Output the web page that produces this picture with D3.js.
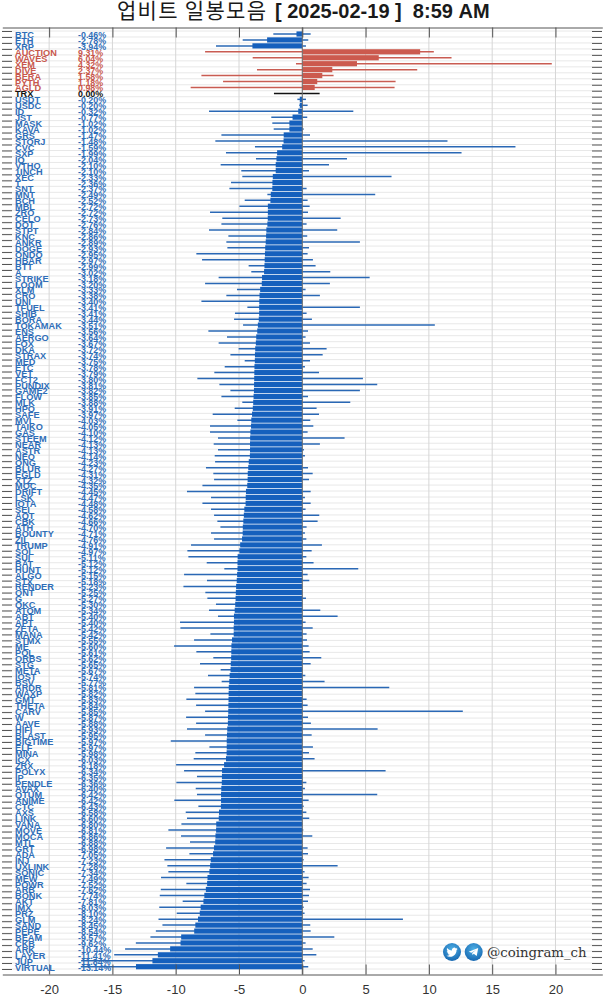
<!DOCTYPE html>
<html><head><meta charset="utf-8">
<script src="https://cdn.jsdelivr.net/npm/d3@7"></script>
<style>html,body{margin:0;padding:0;background:#fff}svg{display:block}</style>
</head><body><div id="chart"></div>
<script>
const titleKo = "업비트 일봉모음";
const titleEn = "[ 2025-02-19 ]  8:59 AM";
const handle = "@coingram_ch";
const xTicks = [-20,-15,-10,-5,0,5,10,15,20];
const names = ["BTC","ETH","XRP","AUCTION","WAVES","XEM","DIVE","BERA","PYTH","AGLD","TRX","USDT","USDC","ID","JST","MASK","KAVA","GRS","STORJ","CVC","SXP","IQ","VTHO","1INCH","XEC","T","SNT","MNT","BCH","MBL","ZRO","CELO","DOT","STPT","KNC","ANKR","DOGE","ONDO","HBAR","BTT","A","STRIKE","LOOM","XLM","CRO","UNI","TFUEL","SHIB","BORA","TOKAMAK","ENS","AERGO","FOX","DKA","STRAX","MED","ETC","VET","FCT2","PUNDIX","GAME2","FLOW","MLK","HPO","SAFE","MVL","TAIKO","GAS","STEEM","NEAR","ASTR","NEO","ONG","BLUR","EGLD","XTZ","MOC","DRIFT","LSK","IOTA","SEI","AQT","CBK","ATH","BOUNTY","ZIL","TRUMP","SOL","SUI","BAT","HUNT","ALGO","STX","RENDER","ONT","G","QKC","ATOM","ABT","APT","ZETA","MANA","STMX","ME","POL","ORBS","STG","META","IOST","BSV","ARDR","WAXP","GMT","THETA","CARV","W","AAVE","HIFI","BLAST","BIGTIME","ELF","MINA","ICX","ZRX","POLYX","IP","PENDLE","AVAX","QTUM","ANIME","CTC","AXS","LINK","VANA","MOVE","MOCA","MTL","GRT","ADA","INJ","UXLINK","SONIC","MEW","POWR","ARB","BONK","AKT","IMX","PRZ","GLM","SAND","PEPE","BEAM","CKB","ARK","LAYER","JUP","VIRTUAL"];
const closes = [-0.46,-2.78,-3.94,9.31,6.04,4.32,2.37,1.58,1.18,0.98,0.00,-0.20,-0.20,-0.32,-0.77,-1.02,-1.02,-1.47,-1.48,-1.59,-1.99,-2.04,-2.10,-2.10,-2.33,-2.36,-2.37,-2.49,-2.52,-2.72,-2.72,-2.73,-2.76,-2.84,-2.86,-2.89,-2.93,-2.95,-2.97,-2.99,-3.02,-3.18,-3.20,-3.33,-3.38,-3.40,-3.41,-3.41,-3.44,-3.51,-3.56,-3.64,-3.67,-3.72,-3.74,-3.75,-3.78,-3.79,-3.80,-3.81,-3.82,-3.85,-3.88,-3.91,-3.97,-4.03,-4.05,-4.10,-4.12,-4.13,-4.13,-4.14,-4.23,-4.27,-4.31,-4.32,-4.35,-4.45,-4.47,-4.48,-4.58,-4.62,-4.66,-4.70,-4.71,-4.76,-4.91,-4.97,-5.11,-5.12,-5.12,-5.15,-5.18,-5.23,-5.25,-5.27,-5.30,-5.34,-5.40,-5.40,-5.42,-5.42,-5.55,-5.60,-5.61,-5.62,-5.65,-5.67,-5.74,-5.77,-5.81,-5.82,-5.83,-5.84,-5.85,-5.87,-5.88,-5.93,-5.95,-5.97,-5.97,-5.98,-6.03,-6.18,-6.34,-6.35,-6.36,-6.40,-6.42,-6.42,-6.43,-6.58,-6.60,-6.80,-6.81,-6.86,-6.88,-6.98,-7.05,-7.23,-7.28,-7.34,-7.49,-7.52,-7.62,-7.74,-7.81,-8.03,-8.10,-8.24,-8.45,-8.54,-9.57,-9.62,-10.44,-11.41,-11.84,-13.14];
const lows = [-2.29,-4.71,-6.82,-7.68,-3.92,-0.50,-3.58,-7.97,-6.26,-8.82,-2.24,-0.39,-0.24,-7.37,-2.45,-2.37,-2.26,-6.39,-6.87,-3.74,-6.03,-3.66,-6.45,-4.82,-4.74,-5.63,-5.76,-2.76,-4.55,-4.97,-7.29,-6.32,-6.39,-7.37,-5.84,-6.00,-5.92,-8.37,-7.92,-4.24,-4.03,-6.61,-7.68,-5.16,-6.00,-7.97,-4.34,-5.32,-5.39,-4.68,-7.42,-5.95,-6.61,-5.03,-5.68,-4.55,-6.13,-6.95,-8.29,-6.55,-5.68,-6.39,-4.74,-5.34,-7.08,-5.13,-7.29,-7.29,-6.66,-7.00,-6.66,-6.92,-6.89,-7.61,-7.03,-6.97,-7.89,-9.11,-7.21,-7.89,-7.21,-6.97,-6.71,-6.47,-7.21,-6.97,-8.79,-9.08,-9.00,-7.55,-6.16,-9.34,-7.53,-9.39,-7.66,-7.50,-6.82,-7.37,-6.66,-9.66,-9.63,-7.26,-8.55,-10.13,-8.37,-7.03,-8.08,-6.45,-7.45,-6.37,-8.55,-8.45,-9.16,-8.39,-7.68,-9.18,-8.39,-9.11,-7.68,-10.39,-7.34,-8.45,-8.58,-9.97,-9.34,-8.32,-9.95,-8.42,-8.32,-10.11,-8.21,-9.21,-9.11,-9.55,-10.58,-9.58,-8.87,-10.76,-8.92,-10.89,-10.66,-10.58,-11.16,-9.16,-11.18,-11.26,-9.45,-11.30,-9.92,-11.36,-11.05,-11.57,-12.00,-13.15,-14.00,-14.86,-17.47,-17.50];
const highs = [0.66,0.47,0.29,10.39,11.79,19.71,9.08,2.47,7.37,7.29,1.37,0.29,0.42,4.03,0.39,0,0.11,0.61,11.47,16.84,12.58,3.53,2.11,0.53,7.05,0,0.34,5.76,0.42,0.58,0.45,3.03,0.34,2.76,0.39,4.55,0.53,0.42,0.84,1.05,2.21,5.32,2.18,0.26,1.39,0,4.55,0.34,0.76,10.47,0.45,0.26,0.61,1.92,1.61,0.61,0.21,1.32,4.79,5.92,4.55,0.45,3.79,1.13,1.32,0.63,0.87,0.42,3.34,1.39,0.13,0.21,0,0.45,0.82,0.53,0,0.66,0.21,0.66,0.26,1.34,1.21,0.34,0.21,0.32,1.55,0.74,0.32,0.89,4.42,0.42,0.55,0,0,0.29,0,1.42,2.79,0.26,0.82,0.34,0.37,0.50,0.58,1.50,0.66,0,0.24,1.76,6.87,0,0.34,0.42,12.68,0.45,0.68,5.95,0.74,0,0.84,0.53,0.97,0,6.58,0,0.32,0.21,5.92,0.50,0.11,0.32,0.55,0,0.08,0.79,0,0.42,0.45,0.11,2.79,0.18,0.50,0.34,0.61,0.53,0.45,0.11,0.18,7.95,0.63,0.66,2.53,0.26,0.82,1.11,0.18,0.47];

const W = 604, H = 996;
const colorOf = v => v > 0 ? "#cc5a4e" : v < 0 ? "#1560bd" : "#000";
const whiskerOf = v => v > 0 ? "#c95c52" : v < 0 ? "#2a68b5" : "#111";
const textOf = v => v > 0 ? "#c8584d" : v < 0 ? "#2f6eb8" : "#111";

const svg = d3.select("#chart").append("svg").attr("width", W).attr("height", H);
const x = d3.scaleLinear().domain([-23.7, 23.7]).range([2.3, 602.3]);
const y = d3.scalePoint().domain(d3.range(names.length)).range([34, 966.7]);
const yGrid = d3.scalePoint().domain(d3.range(names.length)).range([31, 969]);
const plotTop = 27.5, plotBottom = 974.5;

const data = names.map((n, i) => ({ n, i, v: closes[i], lo: lows[i], hi: highs[i] }));

// grid
svg.append("g").selectAll("line").data(d3.range(names.length)).join("line")
  .attr("x1", 2).attr("x2", 602).attr("y1", d => yGrid(d)).attr("y2", d => yGrid(d))
  .attr("stroke", "#e8e8e8").attr("stroke-width", 1);
svg.append("g").selectAll("line").data(xTicks).join("line")
  .attr("x1", d => x(d)).attr("x2", d => x(d)).attr("y1", plotTop).attr("y2", plotBottom)
  .attr("stroke", "#d6d6d6").attr("stroke-width", 1);

// whiskers
svg.append("g").selectAll("line").data(data).join("line")
  .attr("x1", d => x(d.lo)).attr("x2", d => x(d.hi))
  .attr("y1", d => y(d.i)).attr("y2", d => y(d.i))
  .attr("stroke", d => whiskerOf(d.v)).attr("stroke-width", 1.5);

// bars
const barH = 5.2;
svg.append("g").selectAll("rect").data(data).join("rect")
  .attr("x", d => Math.min(x(d.v), x(0))).attr("width", d => Math.abs(x(d.v) - x(0)))
  .attr("y", d => y(d.i) - barH / 2).attr("height", barH)
  .attr("fill", d => colorOf(d.v));

// zero line
svg.append("line").attr("x1", x(0)).attr("x2", x(0)).attr("y1", plotTop).attr("y2", plotBottom)
  .attr("stroke", "#6e6e6e").attr("stroke-width", 1);

// axes
const styleAxis = g => {
  g.selectAll("path").attr("stroke", "#555").attr("stroke-width", 1);
  g.selectAll("line").attr("stroke", "#555").attr("stroke-width", 1);
};
svg.append("g").attr("transform", `translate(0,${plotBottom})`)
  .call(d3.axisBottom(x).tickValues(xTicks).tickSize(-10).tickPadding(10).tickSizeOuter(0).tickFormat(String))
  .call(styleAxis)
  .call(g => g.selectAll("text").attr("font-family", "Liberation Sans, Arial, sans-serif").attr("font-size", 13).attr("fill", "#333"));
svg.append("g").attr("transform", `translate(0,${plotTop})`)
  .call(d3.axisTop(x).tickValues(xTicks).tickSize(-10).tickSizeOuter(0).tickFormat(""))
  .call(styleAxis);
svg.append("g").attr("transform", "translate(2,0)")
  .call(d3.axisRight(yGrid).tickSize(10).tickSizeOuter(0).tickFormat(""))
  .call(styleAxis).call(g => g.select("path").remove());
svg.append("g").attr("transform", "translate(602,0)")
  .call(d3.axisLeft(yGrid).tickSize(10).tickSizeOuter(0).tickFormat(""))
  .call(styleAxis).call(g => g.select("path").remove());

// row labels
const labelFont = "Liberation Sans, Arial, sans-serif";
svg.append("g").selectAll("text").data(data).join("text")
  .attr("x", 15).attr("y", d => y(d.i) + 4)
  .attr("font-family", labelFont).attr("font-weight", 700).attr("font-size", 9.2)
  .attr("fill", d => textOf(d.v)).text(d => d.n);
svg.append("g").selectAll("text").data(data).join("text")
  .attr("x", 78).attr("y", d => y(d.i) + 4)
  .attr("font-family", labelFont).attr("font-weight", 700).attr("font-size", 8.9)
  .attr("fill", d => textOf(d.v)).text(d => d.v.toFixed(2) + "%");

// title
const t = svg.append("text").attr("x", 117).attr("y", 18).attr("font-size", 20).attr("fill", "#1a1a1a")
  .attr("font-family", "Liberation Sans, Arial, 'Noto Sans CJK KR', sans-serif").style("white-space", "pre");
t.append("tspan").attr("font-family", "'Noto Sans CJK KR', sans-serif").attr("font-size", 21)
  .attr("font-weight", 400).attr("letter-spacing", 1.3).text(titleKo);
t.append("tspan").attr("x", 275).attr("font-weight", 700).attr("font-size", 20).text(titleEn);

// watermark
const defs = svg.append("defs");
const grad = defs.append("radialGradient").attr("id", "ic").attr("cx", "50%").attr("cy", "35%").attr("r", "70%");
grad.append("stop").attr("offset", "0%").attr("stop-color", "#4fb0e6");
grad.append("stop").attr("offset", "100%").attr("stop-color", "#1262ad");
const tw = svg.append("g").attr("transform", "translate(452,952)");
tw.append("circle").attr("r", 9).attr("fill", "url(#ic)");
tw.append("path").attr("transform", "translate(-5.6,-5.4) scale(0.47)").attr("fill", "#fff")
  .attr("d", "M23.95 4.57a10 10 0 0 1-2.82.77 4.96 4.96 0 0 0 2.16-2.72c-.95.56-2 .96-3.12 1.19a4.92 4.92 0 0 0-8.38 4.48C7.69 8.09 4.07 6.13 1.64 3.16a4.82 4.82 0 0 0-.67 2.47c0 1.71.87 3.21 2.19 4.1a4.9 4.9 0 0 1-2.23-.61v.06a4.92 4.92 0 0 0 3.95 4.83 4.99 4.99 0 0 1-2.21.08 4.93 4.93 0 0 0 4.6 3.42A9.87 9.87 0 0 1 0 19.54a13.94 13.94 0 0 0 7.55 2.21c9.05 0 14-7.5 14-13.98 0-.21 0-.42-.02-.63a9.94 9.94 0 0 0 2.46-2.55z");
const tg = svg.append("g").attr("transform", "translate(473.7,952)");
tg.append("circle").attr("r", 9).attr("fill", "url(#ic)");
tg.append("path").attr("transform", "translate(-6,-6) scale(0.5)").attr("fill", "#fff")
  .attr("d", "M2 11.5 L21 4 L18 20 L12 15.5 L9.5 18 L9 14 L17 7.5 L7.5 13.3 Z");
svg.append("text").attr("x", 487).attr("y", 956.5).attr("font-family", "DejaVu Serif, serif").attr("font-size", 13.3)
  .attr("fill", "#333").text(handle);
</script></body></html>
